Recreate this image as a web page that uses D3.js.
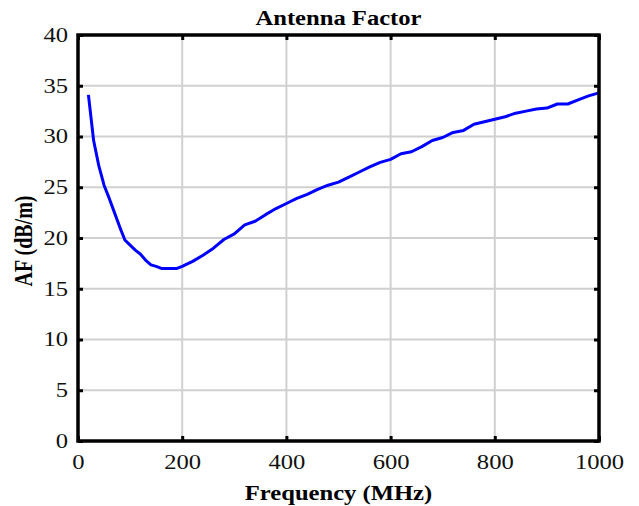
<!DOCTYPE html>
<html>
<head>
<meta charset="utf-8">
<script src="https://cdn.jsdelivr.net/npm/d3@7"></script>
<style>
  body { margin: 0; background: #fff; }
  text { font-family: "Liberation Serif", "Times New Roman", serif; }
</style>
</head>
<body>
<div id="chart"></div>
<script>
// frequency (MHz) and antenna factor (dB/m)
let freq = [20, 30, 40, 50, 60, 70, 80, 90, 100, 110, 120, 130, 140, 150, 160, 170, 180, 190, 200,
    220, 240, 260, 280, 300, 320, 340, 360, 380, 400, 420, 440, 460, 480, 500, 520, 540, 560, 580, 600,
    620, 640, 660, 680, 700, 720, 740, 760, 780, 800, 820, 840, 860, 880, 900, 920, 940, 960, 980, 1000];
let af = [34.1, 29.6, 27.1, 25.2, 23.9, 22.5, 21.1, 19.8, 19.3, 18.8, 18.4, 17.8, 17.35, 17.2, 17.0, 17.0, 17.0, 17.0, 17.2,
    17.7, 18.3, 19.0, 19.85, 20.4, 21.3, 21.65, 22.3, 22.9, 23.4, 23.9, 24.3, 24.8, 25.2, 25.5, 26.0, 26.5, 27.0, 27.45, 27.75,
    28.3, 28.5, 29.0, 29.6, 29.9, 30.4, 30.6, 31.2, 31.45, 31.7, 31.95, 32.3, 32.5, 32.7, 32.8, 33.2, 33.2, 33.6, 34.0, 34.3];
let xTicks = [0, 200, 400, 600, 800, 1000];
let yTicks = [0, 5, 10, 15, 20, 25, 30, 35, 40];

let data = freq.map((f, i) => ({f: f, v: af[i]}));

let margin = {top: 35, right: 40, bottom: 65, left: 78};
let width = 599 - margin.left;
let height = 441 - margin.top;
let stretch = 1.23; // the reference glyphs are wider than Times

let svg = d3.select("#chart").append("svg")
    .attr("width", 639)
    .attr("height", 506)
  .append("g")
    .attr("transform", "translate(" + margin.left + "," + margin.top + ")");

let x = d3.scaleLinear().domain([0, 1000]).range([0, width]);
let y = d3.scaleLinear().domain([0, 40]).range([height, 0]);

// grid
svg.append("g")
    .selectAll("line")
    .data(xTicks.slice(1, -1))
    .join("line")
    .attr("x1", d => x(d)).attr("x2", d => x(d))
    .attr("y1", 0).attr("y2", height)
    .attr("stroke", "#d0d0d0").attr("stroke-width", 2);

svg.append("g")
    .selectAll("line")
    .data(yTicks.slice(1, -1))
    .join("line")
    .attr("x1", 0).attr("x2", width)
    .attr("y1", d => y(d)).attr("y2", d => y(d))
    .attr("stroke", "#d0d0d0").attr("stroke-width", 2);

// curve
let line = d3.line().x(d => x(d.f)).y(d => y(d.v));
svg.append("path")
    .datum(data)
    .attr("fill", "none")
    .attr("stroke", "#0000ff")
    .attr("stroke-width", 3)
    .attr("stroke-linejoin", "round")
    .attr("d", line);

// axes, ticks inward
svg.append("g")
    .attr("transform", "translate(0," + height + ")")
    .call(d3.axisBottom(x).tickValues(xTicks).tickFormat(d3.format("d")).tickSizeInner(-5).tickSizeOuter(0).tickPadding(14));
svg.append("g")
    .call(d3.axisLeft(y).tickValues(yTicks).tickSizeInner(-5).tickSizeOuter(0).tickPadding(10));
svg.append("g")
    .call(d3.axisTop(x).tickValues(xTicks).tickSizeInner(-5).tickSizeOuter(0).tickFormat(""));
svg.append("g")
    .attr("transform", "translate(" + width + ",0)")
    .call(d3.axisRight(y).tickValues(yTicks).tickSizeInner(-5).tickSizeOuter(0).tickFormat(""));

svg.selectAll(".domain").remove();
svg.selectAll(".tick line").attr("stroke", "#000").attr("stroke-width", 3);
svg.selectAll(".tick text")
    .attr("font-family", "Liberation Serif, Times New Roman, serif")
    .attr("font-size", 20)
    .attr("fill", "#111");

svg.append("rect")
    .attr("x", 0).attr("y", 0)
    .attr("width", width).attr("height", height)
    .attr("fill", "none")
    .attr("stroke", "#000")
    .attr("stroke-width", 3.5);

// title and labels
svg.append("text")
    .attr("class", "wide")
    .attr("x", width / 2)
    .attr("y", -10)
    .attr("text-anchor", "middle")
    .attr("font-weight", "bold")
    .attr("font-size", 20)
    .text("Antenna Factor");

svg.append("text")
    .attr("class", "wide")
    .attr("x", width / 2)
    .attr("y", height + 59)
    .attr("text-anchor", "middle")
    .attr("font-weight", "bold")
    .attr("font-size", 20)
    .text("Frequency (MHz)");

svg.append("text")
    .attr("transform", "rotate(-90) scale(1," + stretch + ")")
    .attr("x", -height / 2 - 3)
    .attr("y", -37)
    .attr("text-anchor", "middle")
    .attr("font-weight", "bold")
    .attr("font-size", 20)
    .text("AF (dB/m)");

// widen horizontal text like the reference
svg.selectAll(".tick text, text.wide").each(function() {
    let w = this.getComputedTextLength();
    if (w > 0) {
        d3.select(this)
            .attr("textLength", w * stretch)
            .attr("lengthAdjust", "spacingAndGlyphs");
    }
});
</script>
</body>
</html>
